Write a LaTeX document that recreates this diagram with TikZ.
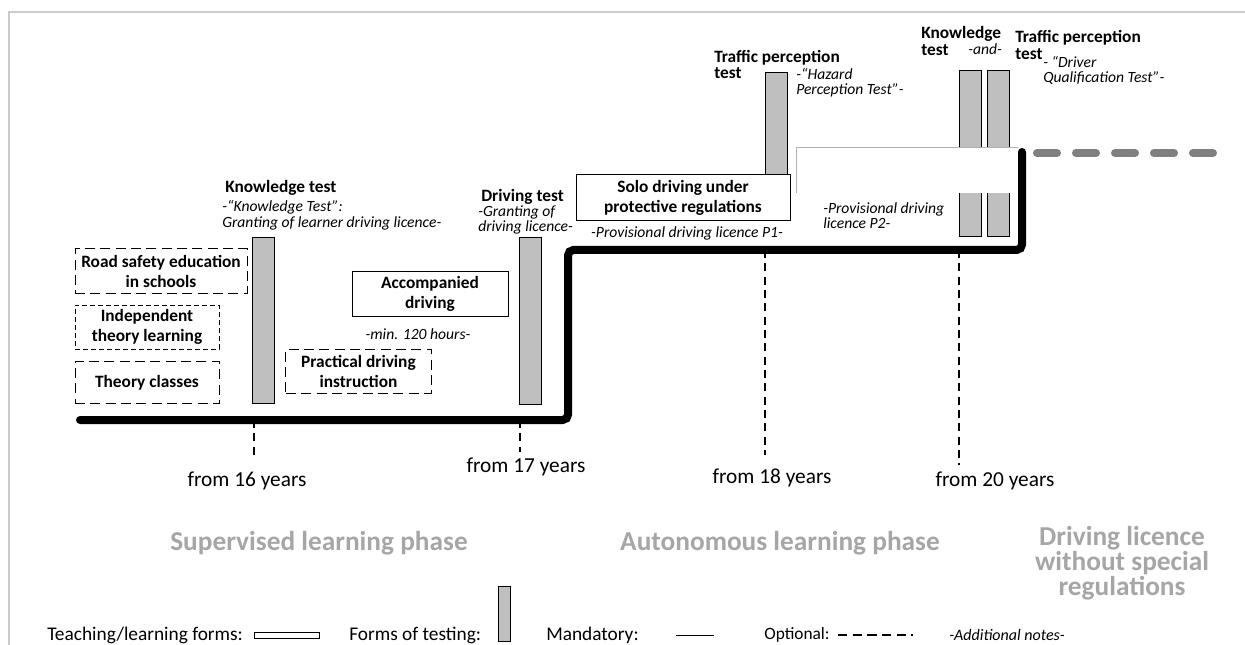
\documentclass[tikz,border=0pt]{standalone}
\usepackage{fontspec}
\setmainfont{Carlito}
\usetikzlibrary{positioning}

\begin{document}
\begin{tikzpicture}[x=0.75pt,y=-0.75pt,
    form/.style={draw,line width=0.75pt,fill=white,align=center,inner sep=0pt,
      font=\bfseries\fontsize{13}{15}\selectfont},
    optional/.style={form,dash pattern=on 7.5pt off 4pt},
    testbar/.style={draw,line width=0.75pt,fill=gray!50,minimum width=16.5pt,inner sep=0pt},
    title/.style={anchor=west,align=left,inner sep=0pt,font=\bfseries\fontsize{13}{12.5}\selectfont},
    note/.style={anchor=west,align=left,inner sep=0pt,font=\itshape\fontsize{11.7}{11.7}\selectfont},
    age/.style={inner sep=0pt,font=\fontsize{16}{19}\selectfont},
    phase/.style={inner sep=0pt,align=center,text=gray!70,font=\bfseries\fontsize{20.5}{17.6}\selectfont},
    legend/.style={anchor=west,inner sep=0pt,font=\fontsize{14.5}{17}\selectfont},
    tick/.style={line width=1.2pt,dash pattern=on 6pt off 4pt}]
  \useasboundingbox (0,0) rectangle (1245,645);
  % frame
  \draw[gray!40,line width=1.5pt] (9,645) -- (9,12) -- (1245,12);

  % tests
  \node[testbar,minimum height=124pt] (kt_1) at (263,320.5) {};
  \node[testbar,minimum height=124.5pt] (dt) at (530.5,321) {};
  \node[testbar,minimum height=84pt] (tp_1) at (776,129) {};
  \node[testbar,minimum height=124.5pt] (kt_2) at (970,154) {};
  \node[testbar,minimum height=124.5pt] (tp_2) at (998,154) {};

  % P2 area
  \node[fill=white,inner sep=0pt,minimum width=166pt,minimum height=33.75pt] (p2) at (907.5,170.5) {};
  \draw[gray!60,line width=0.5pt] (p2.south west) -- (p2.north west) -- (p2.north east);

  % teaching and learning forms
  \node[optional,minimum width=129pt,minimum height=33pt] (road) at (161,271) {Road safety education\\in schools};
  \node[form,dash pattern=on 3.5pt off 2.5pt,minimum width=108pt,minimum height=33pt] (indep) at (147,327) {Independent\\theory learning};
  \node[optional,minimum width=108pt,minimum height=32pt] (theory) at (147,382.5) {Theory classes};
  \node[optional,minimum width=109pt,minimum height=33pt] (practical) at (358.5,371) {Practical driving\\instruction};
  \node[form,minimum width=117pt,minimum height=33pt] (accomp) at (430,294) {Accompanied\\driving};
  \node[form,minimum width=160.5pt,minimum height=34pt] (solo) at (683,197.5) {Solo driving under\\protective regulations};

  % labels of the tests
  \node[title] (kt_1t) at (225,188) {Knowledge test};
  \node[note] (kt_1n) at (222,215.5) {-“Knowledge Test”:\\Granting of learner driving licence-};
  \node[title] (dtt) at (481,197) {Driving test};
  \node[note] (dtn) at (478,220) {-Granting of\\driving licence-};
  \node[note,anchor=center] (hours) at (418,334) {-min. 120 hours-};
  \node[note,anchor=center] (p1n) at (687,233) {-Provisional driving licence P1-};
  \node[title] (tp_1t) at (714,64.5) {Traffic perception\\test};
  \node[note] (tp_1n) at (796,82.5) {-“Hazard\\Perception Test”-};
  \node[note] (p2n) at (823,215.5) {-Provisional driving\\licence P2-};
  \node[title] (kt_2t) at (921,41) {Knowledge\\test};
  \node[note] (and) at (968,49) {-and-};
  \node[title] (tp_2t) at (1015,45) {Traffic perception\\test};
  \node[note] (tp_2n) at (1043,70.5) {- “Driver\\Qualification Test”-};

  % the route
  \draw[line width=6pt,rounded corners=4pt,line cap=round]
    (80,420) -- (568,420) -- (568,250) -- (1022,250) -- (1022,152);
  \draw[gray,line width=6pt,line cap=round,dash pattern=on 15pt off 14.25pt]
    (1037,153) -- (1213,153);

  % ages
  \node[age] (age16) at (247,481) {from 16 years};
  \node[age] (age17) at (526,467) {from 17 years};
  \node[age] (age18) at (772,478) {from 18 years};
  \node[age] (age20) at (995,481) {from 20 years};
  \coordinate (a16) at (254,420); \coordinate (b16) at (254,455);
  \coordinate (a17) at (520,420); \coordinate (b17) at (520,452);
  \coordinate (a18) at (765,250); \coordinate (b18) at (765,455);
  \coordinate (a20) at (959,250); \coordinate (b20) at (959,465);
  \draw[tick] (a16) -- (b16);
  \draw[tick] (a17) -- (b17);
  \draw[tick,line width=0.9pt] (a18) -- (b18);
  \draw[tick,line width=0.9pt] (a20) -- (b20);

  % phases
  \node[phase] (sup) at (319,543) {Supervised learning phase};
  \node[phase] (auto) at (780,543) {Autonomous learning phase};
  \node[phase] (free) at (1122,563) {Driving licence\\without special\\regulations};

  % legend
  \node[legend] (lform) at (47,635) {Teaching/learning forms:};
  \node[draw,line width=0.75pt,inner sep=0pt,minimum width=48.75pt,minimum height=4.5pt] (lformbox) at (286.5,635) {};
  \node[legend] (ltest) at (349,635) {Forms of testing:};
  \node[testbar,minimum width=9pt,minimum height=41.25pt] (ltestbar) at (504,613.5) {};
  \node[legend] (lmand) at (546,635) {Mandatory:};
  \coordinate (m1) at (676,635); \coordinate (m2) at (714,635);
  \draw[line width=0.75pt] (m1) -- (m2);
  \node[legend,font=\fontsize{13}{16}\selectfont] (lopt) at (764,635) {Optional:};
  \coordinate (o1) at (838,635); \coordinate (o2) at (913,635);
  \draw[line width=1.2pt,dash pattern=on 7pt off 4pt] (o1) -- (o2);
  \node[legend,font=\itshape\fontsize{12}{15}\selectfont] (lnote) at (949,635) {-Additional notes-};
\end{tikzpicture}
\end{document}
